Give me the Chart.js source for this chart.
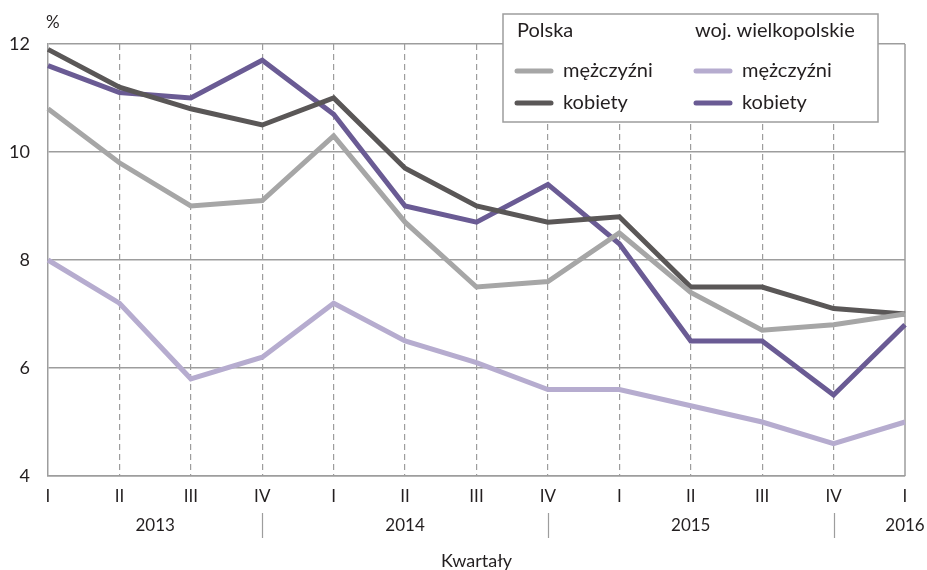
<!DOCTYPE html>
<html>
<head>
<meta charset="utf-8">
<script src="https://cdn.jsdelivr.net/npm/chart.js@4.4.1/dist/chart.umd.min.js"></script>
<style>
      html, body { margin: 0; padding: 0; background: #fff; }
      #wrap { width: 927px; height: 570px; position: relative; }
</style>
</head>
<body>
<div id="wrap"><canvas id="chart"></canvas></div>
<script>
// Kwartały 2013 I - 2016 I
let quarters = ["I", "II", "III", "IV", "I", "II", "III", "IV", "I", "II", "III", "IV", "I"];
let years = ["2013", "2014", "2015", "2016"];
let yTicks = [4, 6, 8, 10, 12];

// Polska
let plMen = [10.8, 9.8, 9.0, 9.1, 10.3, 8.7, 7.5, 7.6, 8.5, 7.4, 6.7, 6.8, 7.0];
let plWomen = [11.9, 11.2, 10.8, 10.5, 11.0, 9.7, 9.0, 8.7, 8.8, 7.5, 7.5, 7.1, 7.0];
// woj. wielkopolskie
let wlkpMen = [8.0, 7.2, 5.8, 6.2, 7.2, 6.5, 6.1, 5.6, 5.6, 5.3, 5.0, 4.6, 5.0];
let wlkpWomen = [11.6, 11.1, 11.0, 11.7, 10.7, 9.0, 8.7, 9.4, 8.3, 6.5, 6.5, 5.5, 6.8];

const FONT = "Lato";
const TEXT = "#231f20";
const GRID = "#9d9d9d";

let line = (label, data, color) => ({
      label: label,
      data: data,
      borderColor: color,
      backgroundColor: color,
      borderWidth: 5,
      pointRadius: 0,
      tension: 0,
      fill: false
});

// frame, year row, axis title and the two-column legend
let decor = {
      id: 'decor',
      beforeDatasetsDraw: (chart) => {
            let ctx = chart.ctx;
            let a = chart.chartArea;
            ctx.save();
            ctx.strokeStyle = GRID;
            ctx.lineWidth = 1.5;
            ctx.beginPath();
            ctx.moveTo(a.right, a.top);
            ctx.lineTo(a.right, a.bottom);
            ctx.stroke();
            ctx.restore();
      },
      afterDraw: (chart) => {
            let ctx = chart.ctx;
            let xs = chart.scales.x;
            let a = chart.chartArea;
            ctx.save();
            ctx.fillStyle = TEXT;
            ctx.font = `17px ${FONT}`;
            ctx.textBaseline = 'middle';

            // "%" above the y axis
            ctx.textAlign = 'left';
            ctx.fillText("%", 46, 23);

            // years under the quarters
            ctx.textAlign = 'center';
            let yearIdx = [1.5, 5, 9, 12];
            years.forEach((y, i) => {
                  let px = xs.getPixelForValue(Math.floor(yearIdx[i]));
                  if (yearIdx[i] % 1) {
                        px = (px + xs.getPixelForValue(Math.ceil(yearIdx[i]))) / 2;
                  }
                  ctx.fillText(y, px, a.bottom + 50);
            });
            ctx.strokeStyle = GRID;
            ctx.lineWidth = 1.2;
            [3, 7, 11].forEach((i) => {
                  let px = Math.round(xs.getPixelForValue(i)) + 0.5;
                  ctx.beginPath();
                  ctx.moveTo(px, a.bottom + 37);
                  ctx.lineTo(px, a.bottom + 62);
                  ctx.stroke();
            });
            ctx.font = `18px ${FONT}`;
            ctx.fillText("Kwartały", (a.left + a.right) / 2, 561);

            // legend box
            let lx = 503, ly = 14, lw = 375, lh = 108;
            ctx.fillStyle = "#fff";
            ctx.fillRect(lx, ly, lw, lh);
            ctx.strokeStyle = GRID;
            ctx.lineWidth = 1.5;
            ctx.strokeRect(lx, ly, lw, lh);

            ctx.font = `20px ${FONT}`;
            ctx.fillStyle = TEXT;
            ctx.textAlign = 'left';
            ctx.fillText("Polska", 517, 31);
            ctx.fillText("woj. wielkopolskie", 695, 31);

            let ds = chart.data.datasets;
            let cols = [515, 694];
            let rows = [71, 103];
            ds.forEach((d, i) => {
                  let cx = cols[Math.floor(i / 2)];
                  let cy = rows[i % 2];
                  ctx.strokeStyle = d.borderColor;
                  ctx.lineWidth = 5;
                  ctx.lineCap = 'round';
                  ctx.beginPath();
                  ctx.moveTo(cx + 2, cy);
                  ctx.lineTo(cx + 36, cy);
                  ctx.stroke();
                  ctx.fillStyle = TEXT;
                  ctx.fillText(i % 2 ? "kobiety" : "mężczyźni", cx + 48, cy);
            });
            ctx.restore();
      }
};

new Chart(document.getElementById('chart'), {
      type: 'line',
      data: {
            labels: quarters,
            datasets: [
                  line("Polska mężczyźni", plMen, "#a6a6a6"),
                  line("Polska kobiety", plWomen, "#5a5757"),
                  line("woj. wielkopolskie mężczyźni", wlkpMen, "#b6accf"),
                  line("woj. wielkopolskie kobiety", wlkpWomen, "#6a5b94")
            ]
      },
      options: {
            responsive: true,
            maintainAspectRatio: false,
            animation: false,
            layout: { padding: { top: 44, right: 22, bottom: 0, left: 0 } },
            plugins: {
                  legend: { display: false },
                  tooltip: { enabled: false }
            },
            scales: {
                  x: {
                        afterFit: (s) => { s.height = 94; },
                        grid: {
                              drawTicks: false,
                              color: (c) => (c.index === 0 || c.index === quarters.length - 1) ? 'rgba(0,0,0,0)' : GRID,
                              lineWidth: 1.2
                        },
                        border: { display: true, color: GRID, width: 1.5, dash: [6, 4] },
                        ticks: {
                              color: TEXT,
                              font: { family: FONT, size: 17 },
                              padding: 10,
                              maxRotation: 0,
                              autoSkip: false
                        }
                  },
                  y: {
                        min: 4,
                        max: 12,
                        afterFit: (s) => { s.width = 48; },
                        afterBuildTicks: (s) => { s.ticks = yTicks.map((v) => ({ value: v })); },
                        grid: { drawTicks: false, color: GRID, lineWidth: 1.5 },
                        border: { display: true, color: GRID, width: 1.5 },
                        ticks: {
                              color: TEXT,
                              font: { family: FONT, size: 18 },
                              padding: 18
                        }
                  }
            }
      },
      plugins: [decor]
});
</script>
</body>
</html>
